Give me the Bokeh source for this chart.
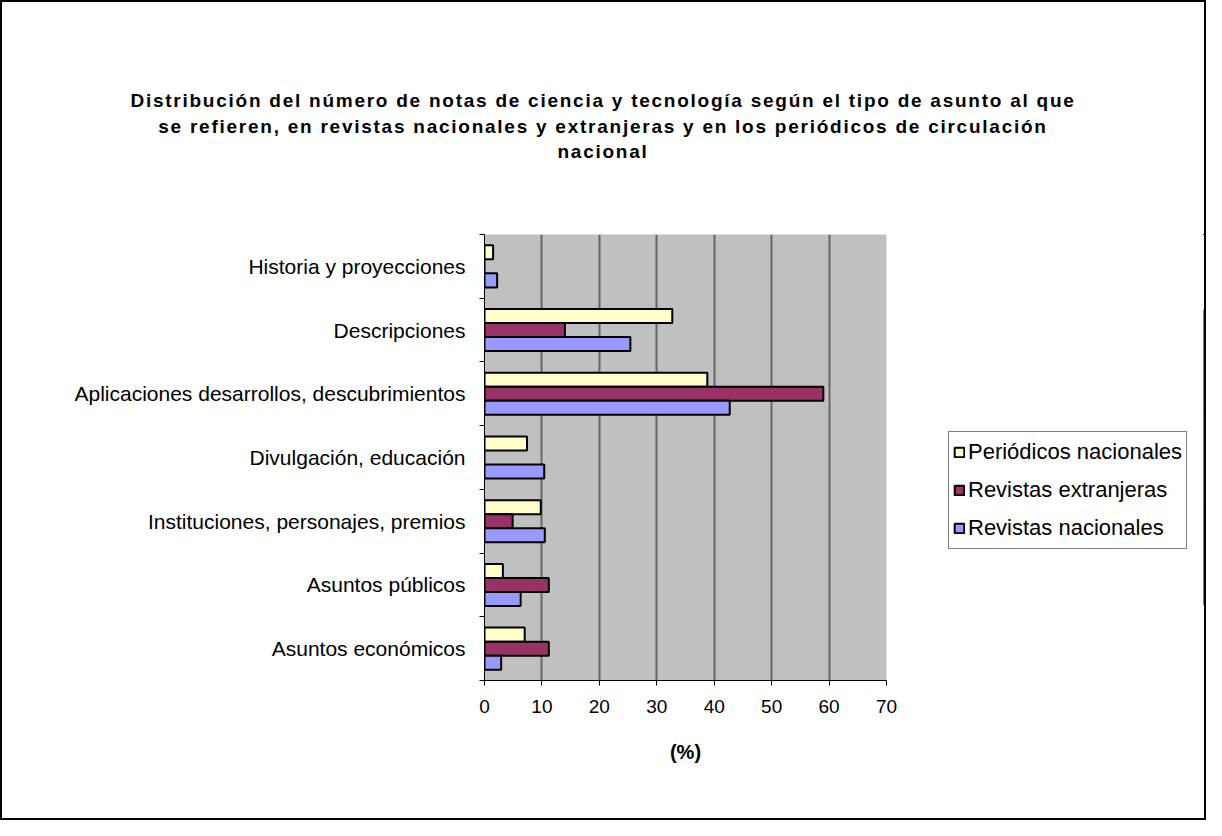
from bokeh.plotting import figure
from bokeh.models import (ColumnDataSource, FixedTicker, Range1d, Legend, LegendItem, Div)
from bokeh.layouts import column, row
from bokeh.embed import file_html
from bokeh.resources import INLINE

# ---- data ----
categories = [
    "Asuntos económicos",
    "Asuntos públicos",
    "Instituciones, personajes, premios",
    "Divulgación, educación",
    "Aplicaciones desarrollos, descubrimientos",
    "Descripciones",
    "Historia y proyecciones",
]
periodicos_nacionales = [7.0, 3.2, 9.8, 7.4, 38.8, 32.7, 1.5]
revistas_extranjeras = [11.2, 11.2, 4.9, 0.0, 59.0, 14.0, 0.0]
revistas_nacionales = [2.9, 6.3, 10.5, 10.4, 42.7, 25.4, 2.2]
series_names = ["Periódicos nacionales", "Revistas extranjeras", "Revistas nacionales"]
x_ticks = [0, 10, 20, 30, 40, 50, 60, 70]
title_lines = [
    "Distribución del número de notas de ciencia y tecnología según el tipo de asunto al que",
    "se refieren, en revistas nacionales y extranjeras y en los periódicos de circulación",
    "nacional",
]

FONT = "Liberation Sans"
colors = ["#FFFFCC", "#993366", "#9999FF"]
offsets = [0.22, 0.0, -0.22]
bar_h = 0.22

OUT_W, OUT_H = 1206, 820
W = OUT_W - 4
DIV_H = 160
FIG_H = OUT_H - 4 - DIV_H
P_W = 904
L_W = W - P_W

title_div = Div(
    text="<br>".join(title_lines),
    width=W, height=DIV_H, margin=0,
    styles={"width": f"{W}px", "text-align": "center", "font-family": FONT,
            "font-weight": "bold", "font-size": "19px", "line-height": "25.5px",
            "letter-spacing": "1.75px",
            "color": "black", "padding-top": "86px", "box-sizing": "border-box"},
)

p = figure(width=P_W, height=FIG_H, output_backend="svg", toolbar_location=None,
           x_range=Range1d(0, 70), y_range=Range1d(0, len(categories)),
           min_border_left=482, min_border_right=20, min_border_top=72, min_border_bottom=138)
p.background_fill_color = "#C0C0C0"
p.border_fill_color = "white"
p.outline_line_color = None

centers = [i + 0.5 for i in range(len(categories))]
sources = []
for vals, col, off in zip([periodicos_nacionales, revistas_extranjeras, revistas_nacionales],
                          colors, offsets):
    src = ColumnDataSource(dict(y=[c + off for c in centers], right=vals))
    sources.append(src)
    p.hbar(y="y", right="right", left=0, height=bar_h, source=src,
           fill_color=col, line_color="black", line_width=2)

# x axis
p.xaxis.ticker = FixedTicker(ticks=x_ticks)
p.xaxis.axis_label = "(%)"
p.xaxis.axis_label_text_font = FONT
p.xaxis.axis_label_text_font_style = "bold"
p.xaxis.axis_label_text_font_size = "20px"
p.xaxis.axis_label_text_color = "black"
p.xaxis.axis_label_standoff = 25
p.xaxis.major_label_text_font = FONT
p.xaxis.major_label_text_font_size = "19px"
p.xaxis.major_label_text_color = "black"
p.xaxis.major_label_standoff = 14
p.xaxis.major_tick_in = 0
p.xaxis.major_tick_out = 5
p.xaxis.minor_tick_line_color = None
p.xaxis.axis_line_color = "black"
p.xaxis.major_tick_line_color = "black"

# y axis: labels at category centres, ticks at category boundaries
p.yaxis.ticker = FixedTicker(ticks=centers, minor_ticks=list(range(len(categories) + 1)))
p.yaxis.major_label_overrides = {c: cat for c, cat in zip(centers, categories)}
p.yaxis.major_tick_in = 0
p.yaxis.major_tick_out = 0
p.yaxis.minor_tick_in = 0
p.yaxis.minor_tick_out = 5
p.yaxis.minor_tick_line_color = "black"
p.yaxis.axis_line_color = "black"
p.yaxis.major_label_text_font = FONT
p.yaxis.major_label_text_font_size = "21px"
p.yaxis.major_label_text_color = "black"
p.yaxis.major_label_standoff = 14

p.xgrid.ticker = FixedTicker(ticks=x_ticks)
p.xgrid.grid_line_color = "#666666"
p.xgrid.grid_line_width = 2
p.ygrid.grid_line_color = None

# legend panel: same series/glyph styles, view range chosen so only the legend shows
lf = figure(width=L_W, height=FIG_H, output_backend="svg", toolbar_location=None,
            x_axis_type=None, y_axis_type=None, x_range=Range1d(-2, -1), y_range=Range1d(0, 1),
            min_border_left=0, min_border_right=0, min_border_top=72, min_border_bottom=138)
lf.outline_line_color = None
lf.background_fill_color = "white"
lf.border_fill_color = "white"
lf.grid.grid_line_color = None
items = []
for name, col, src in zip(series_names, colors, sources):
    r = lf.hbar(y="y", right="right", left=0, height=bar_h, source=src,
                fill_color=col, line_color="black", line_width=2)
    items.append(LegendItem(label=name, renderers=[r]))

legend = Legend(items=items, location=(42, 131), orientation="vertical",
                label_text_font=FONT, label_text_font_size="22px", label_text_color="black",
                label_height=32, glyph_width=12, glyph_height=12, label_standoff=3,
                spacing=6, padding=4, margin=0,
                border_line_color="black", border_line_width=1,
                background_fill_color="white", background_fill_alpha=1)
lf.add_layout(legend, "center")

layout = column(title_div, row(p, lf, spacing=0), spacing=0, width=OUT_W, height=OUT_H,
                styles={"border": "2px solid black", "box-sizing": "border-box",
                        "background": "white"})

open("out.html", "w").write(file_html(layout, INLINE))
